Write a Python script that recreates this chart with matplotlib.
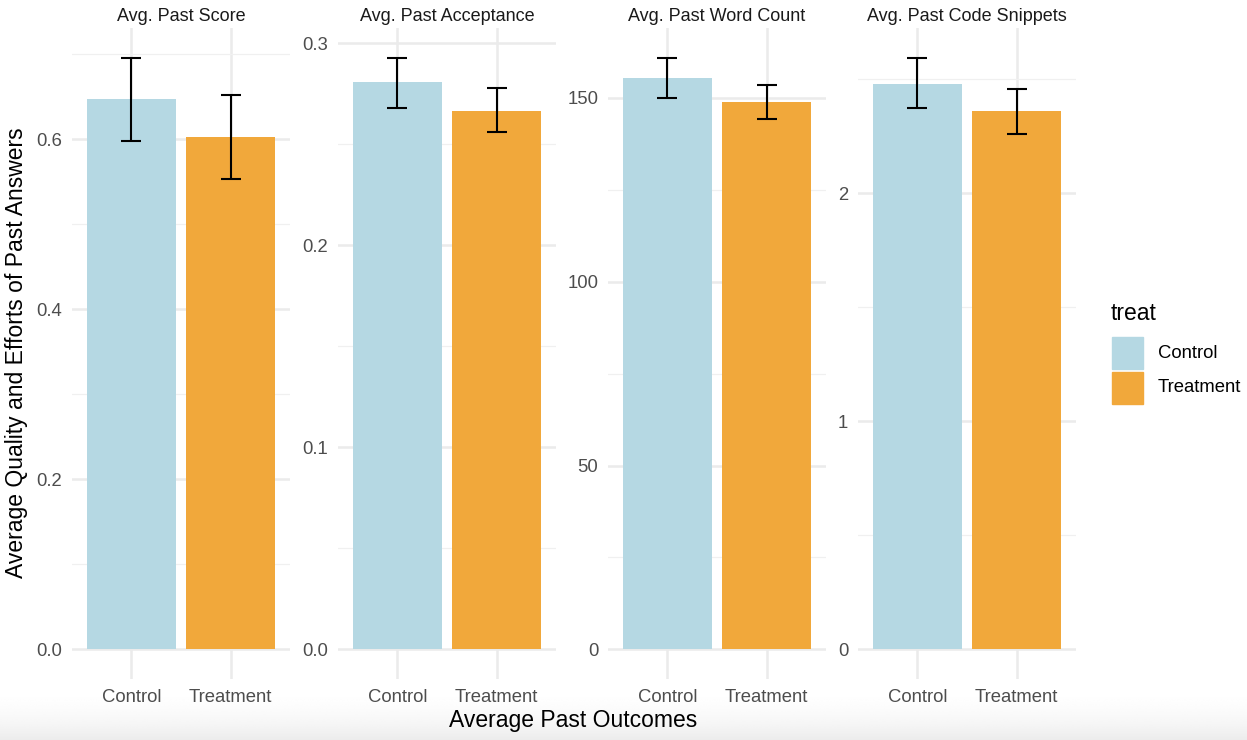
import matplotlib.pyplot as plt
import numpy as np

plt.rcParams['font.family'] = ['Liberation Sans', 'DejaVu Sans']

# Group means and 95% CI bounds for each past-outcome measure
groups = ["Control", "Treatment"]
panel_titles = ["Avg. Past Score", "Avg. Past Acceptance",
                "Avg. Past Word Count", "Avg. Past Code Snippets"]

score_mean = [0.647, 0.603]
score_lo = [0.598, 0.553]
score_hi = [0.696, 0.652]

accept_mean = [0.2807, 0.2668]
accept_lo = [0.268, 0.256]
accept_hi = [0.293, 0.278]

words_mean = [155.4, 148.9]
words_lo = [150.0, 144.3]
words_hi = [160.9, 153.5]

code_mean = [2.482, 2.360]
code_lo = [2.373, 2.259]
code_hi = [2.596, 2.460]

means = [score_mean, accept_mean, words_mean, code_mean]
lows = [score_lo, accept_lo, words_lo, code_lo]
highs = [score_hi, accept_hi, words_hi, code_hi]

major_ticks = [[0.0, 0.2, 0.4, 0.6], [0.0, 0.1, 0.2, 0.3],
               [0, 50, 100, 150], [0, 1, 2]]
tick_labels = [["0.0", "0.2", "0.4", "0.6"], ["0.0", "0.1", "0.2", "0.3"],
               ["0", "50", "100", "150"], ["0", "1", "2"]]

colors = ["#B5D8E3", "#F1A83B"]
grid_col = "#EBEBEB"
text_col = "#4D4D4D"

W, H = 1247, 740
fig = plt.figure(figsize=(W / 100, H / 100), dpi=100)

# soft shading along the bottom edge
shade_h = 55
shade = fig.add_axes([0, 0, 1, shade_h / H], zorder=-5)
t = np.linspace(1.0, 0.0, 200).reshape(-1, 1)
grad = 1.0 - 0.075 * t ** 2
shade.imshow(np.repeat(grad, 4, axis=1), cmap="gray", vmin=0, vmax=1,
             aspect="auto", origin="lower", extent=[0, 1, 0, 1],
             interpolation="bilinear")
shade.axis("off")

panel_left = [72, 338, 608, 858]
panel_w = 218
panel_top, panel_bot = 28, 679

x = np.arange(len(groups))
for i in range(4):
    ax = fig.add_axes([panel_left[i] / W, 1 - panel_bot / H,
                       panel_w / W, (panel_bot - panel_top) / H])
    m = np.array(means[i])
    lo = np.array(lows[i])
    hi = np.array(highs[i])
    ax.bar(x, m, width=0.9, color=colors, zorder=2)
    ax.errorbar(x, m, yerr=[m - lo, hi - m], fmt="none", ecolor="black",
                elinewidth=1.5, capsize=7.5, capthick=1.5, zorder=3)
    top = hi.max()
    ax.set_ylim(-0.05 * top, 1.05 * top)
    ax.set_xlim(-0.6, 1.6)

    ax.set_yticks(major_ticks[i])
    ax.set_yticklabels(tick_labels[i])
    step = major_ticks[i][1] - major_ticks[i][0]
    minors = np.arange(step / 2, top * 1.05, step)
    ax.set_yticks(minors, minor=True)
    ax.set_xticks(x)
    ax.set_xticklabels(groups)

    ax.grid(axis="y", which="major", color=grid_col, linewidth=1.8, zorder=0)
    ax.grid(axis="y", which="minor", color="#F0F0F0", linewidth=0.9, zorder=0)
    ax.grid(axis="x", which="major", color=grid_col, linewidth=1.8, zorder=0)
    ax.set_axisbelow(True)
    for s in ax.spines.values():
        s.set_visible(False)
    ax.tick_params(which="both", length=0, labelsize=13.3, colors=text_col,
                   pad=7)
    ax.tick_params(axis="x", pad=7)
    ax.set_facecolor("none")
    ax.set_title(panel_titles[i], fontsize=13, color="#1A1A1A", pad=5)

fig.text(573 / W, 1 - 720 / H, "Average Past Outcomes", ha="center",
         va="center", fontsize=16.5, color="black")
fig.text(17 / W, 1 - 353 / H, "Average Quality and Efforts of Past Answers",
         ha="center", va="center", rotation=90, fontsize=16.5, color="black")

# legend
fig.text(1111 / W, 1 - 313 / H, "treat", ha="left", va="center",
         fontsize=16.5, color="black")
for j, g in enumerate(groups):
    y0 = 337 + j * 35
    fig.patches.append(plt.Rectangle((1112 / W, 1 - (y0 + 32) / H),
                                     31 / W, 32 / H, color=colors[j],
                                     transform=fig.transFigure))
    fig.text(1158 / W, 1 - (y0 + 16) / H, g, ha="left", va="center",
             fontsize=13.3, color="black")

fig.savefig("out.png", dpi=100, facecolor="white")
